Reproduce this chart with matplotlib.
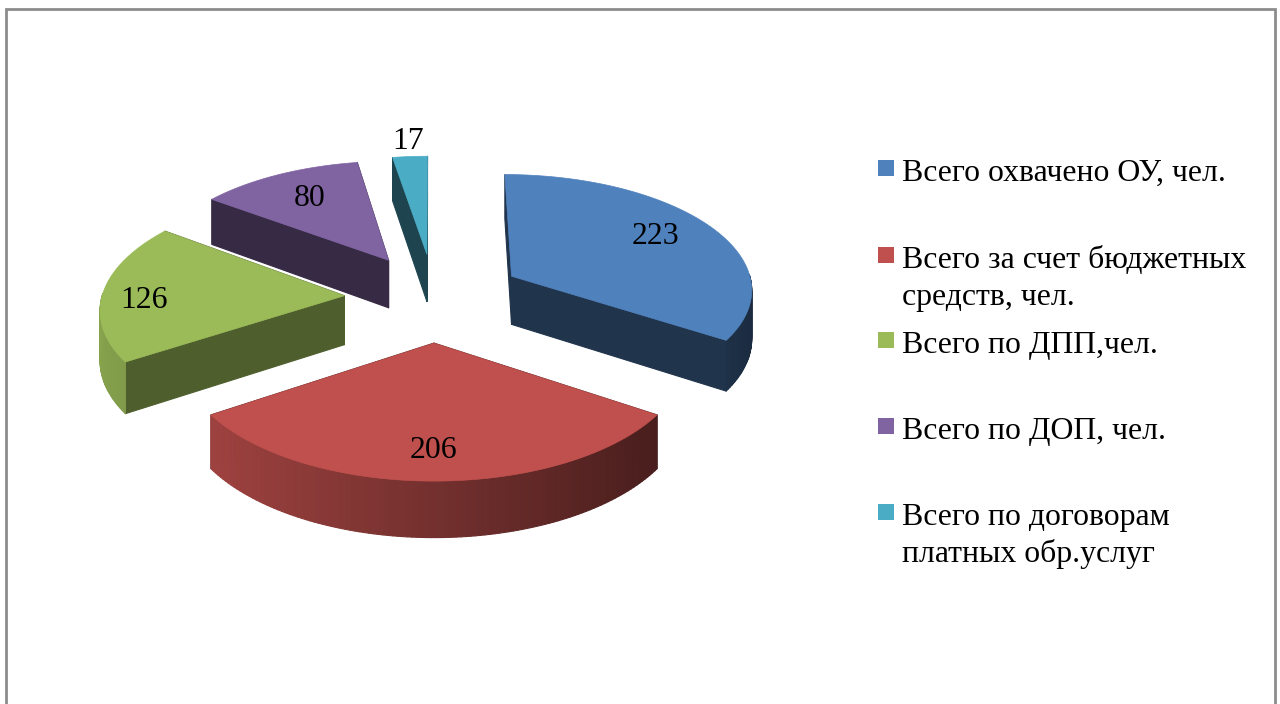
import numpy as np
import matplotlib
matplotlib.use("Agg")
import matplotlib.pyplot as plt
from matplotlib.patches import Polygon, Rectangle

# --- data ---
values = [223, 206, 126, 80, 17]
value_labels = ["223", "206", "126", "80", "17"]
legend_labels = [
    "Всего охвачено ОУ, чел.",
    "Всего за счет бюджетных\nсредств, чел.",
    "Всего по ДПП,чел.",
    "Всего по ДОП, чел.",
    "Всего по договорам\nплатных обр.услуг",
]
colors = ["#4F81BD", "#C0504D", "#9BBB59", "#8064A2", "#4BACC6"]

# --- style / camera ---
EXPLODE = 0.37
P, K, VX, VY, H0 = 0.10, 242.5, 434.0, -903.0, 1200.0
RY = 0.96
DEPTH = 49.0
cut_shade = [0.40, 0.40, 0.50, 0.42, 0.40]
label_frac = [0.72, 0.76, 0.83, 0.70, 1.13]
label_dy = [-1, 1, 8, 2, 1]
legend_y = [168, 255, 340, 426, 512]
LEGEND_LINE = 37
FS = 22.9


def project(X, Y, z=0.0):
    w = 1 + P * np.asarray(Y, float)
    return VX + K * np.asarray(X, float) / w, VY + (H0 + z * DEPTH) / w


def shade(c, s):
    return tuple(np.array(matplotlib.colors.to_rgb(c)) * s)


fig = plt.figure(figsize=(12.8, 7.04), dpi=100)
ax = fig.add_axes([0, 0, 1, 1])
ax.set_xlim(0, 1280)
ax.set_ylim(704, 0)
ax.axis("off")
plt.rcParams["font.family"] = ["Liberation Serif", "DejaVu Serif"]

# chart frame
ax.plot([6, 6, 1275, 1275], [704, 8.5, 8.5, 704], color="#8C8C8C", lw=2.0,
        solid_joinstyle="miter", zorder=1)

fracs = np.array(values, float) / sum(values)
ends = np.cumsum(fracs) * 2 * np.pi
starts = ends - fracs * 2 * np.pi
mids = (starts + ends) / 2

order = sorted(range(len(values)), key=lambda i: -np.cos(mids[i]))
z = 2
for i in order:
    cx, cy = EXPLODE * np.sin(mids[i]), EXPLODE * np.cos(mids[i])
    n = max(8, int(np.degrees(ends[i] - starts[i])))
    t = np.linspace(starts[i], ends[i], n + 1)
    xr, yr = cx + np.sin(t), cy + RY * np.cos(t)

    faces = []
    # cut faces first, then only the front-facing rim strips over them
    for k in (0, -1):
        faces.append((np.array([cx, xr[k]]), np.array([cy, yr[k]]), shade(colors[i], cut_shade[i])))
    for a in range(n):
        tm = (t[a] + t[a + 1]) / 2
        if np.cos(tm) > 0.02:
            continue
        s = 0.60 - 0.27 * np.sin(tm)
        faces.append((xr[a:a + 2], yr[a:a + 2], shade(colors[i], s)))
    for fx, fy, col in faces:
        x0, y0 = project(fx, fy)
        x1, y1 = project(fx, fy, 1)
        ax.add_patch(Polygon(np.c_[np.r_[x0, x1[::-1]], np.r_[y0, y1[::-1]]],
                             closed=True, fc=col, ec=col, lw=0.8, joinstyle="round",
                             snap=False, zorder=z))
        z += 1
    sx, sy = project(np.r_[cx, xr], np.r_[cy, yr])
    ax.add_patch(Polygon(np.c_[sx, sy], closed=True, fc=colors[i], ec=colors[i], lw=0.5,
                         joinstyle="round", snap=False, zorder=z))
    z += 1

for i, lab in enumerate(value_labels):
    f = label_frac[i]
    lx, ly = project((EXPLODE + f) * np.sin(mids[i]), (EXPLODE + f) * np.cos(mids[i]))
    ax.text(lx, ly + label_dy[i], lab, ha="center", va="center", fontsize=FS, color="black", zorder=500)

for lab, col, y in zip(legend_labels, colors, legend_y):
    ax.add_patch(Rectangle((878, y - 8), 16, 16, fc=col, ec="none", zorder=500))
    for j, line in enumerate(lab.split("\n")):
        ax.text(902, y + 5 + j * LEGEND_LINE, line, ha="left", va="center", fontsize=FS,
                color="black", zorder=500)

fig.savefig("out.png", dpi=100)
